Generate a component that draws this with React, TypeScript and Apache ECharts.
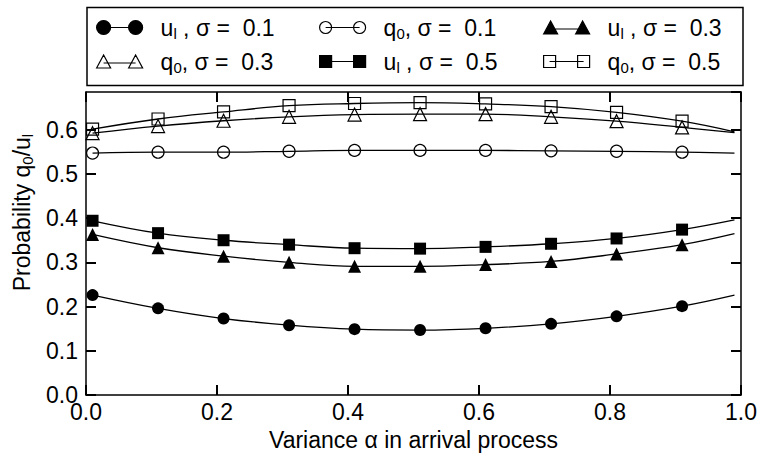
import React, { useEffect, useRef } from "react";
import * as echarts from "echarts";

// Variance alpha (last point is the curve end, drawn without marker)
const alpha = [0.01, 0.11, 0.21, 0.31, 0.41, 0.51, 0.61, 0.71, 0.81, 0.91, 0.99];

const ulSigma01 = [0.226, 0.196, 0.173, 0.158, 0.149, 0.147, 0.151, 0.161, 0.178, 0.201, 0.226];
const q0Sigma01 = [0.547, 0.549, 0.549, 0.551, 0.553, 0.553, 0.553, 0.552, 0.551, 0.549, 0.547];
const ulSigma03 = [0.363, 0.333, 0.314, 0.3, 0.291, 0.291, 0.295, 0.302, 0.319, 0.34, 0.365];
const q0Sigma03 = [0.592, 0.608, 0.62, 0.629, 0.634, 0.635, 0.635, 0.629, 0.619, 0.605, 0.593];
const ulSigma05 = [0.394, 0.366, 0.35, 0.34, 0.332, 0.331, 0.335, 0.342, 0.354, 0.374, 0.396];
const q0Sigma05 = [0.601, 0.624, 0.64, 0.654, 0.659, 0.661, 0.658, 0.652, 0.639, 0.619, 0.595];

const seriesNames = [
  "u_l, σ = 0.1",
  "q_0, σ = 0.1",
  "u_l, σ = 0.3",
  "q_0, σ = 0.3",
  "u_l, σ = 0.5",
  "q_0, σ = 0.5",
];
const legendLabels = [
  "u{s|l} , σ =  0.1",
  "q{s|0}, σ =  0.1",
  "u{s|l} , σ =  0.3",
  "q{s|0}, σ =  0.3",
  "u{s|l} , σ =  0.5",
  "q{s|0}, σ =  0.5",
];

const xTickFmt = (v: number) => v.toFixed(1);

const FONT = "Liberation Sans";
const FS = 23;

const ICONS = {
  circleFilled: { d: "M0,7A7,7,0,1,1,14,7A7,7,0,1,1,0,7Z M32,7A7,7,0,1,1,46,7A7,7,0,1,1,32,7Z M7,7L39,7", h: 14 },
  circleOpen: { d: "M0,6A6,6,0,1,1,12,6A6,6,0,1,1,0,6Z M34,6A6,6,0,1,1,46,6A6,6,0,1,1,34,6Z M6,6L40,6", h: 12 },
  triangle: { d: "M0,13L7,0L14,13Z M32,13L39,0L46,13Z M7,8L39,8", h: 13 },
  square: { d: "M0,0L12,0L12,12L0,12Z M34,0L46,0L46,12L34,12Z M6,6L40,6", h: 12 },
};

export default function App() {
  const ref = useRef<HTMLDivElement>(null);

  useEffect(() => {
    document.body.style.margin = "0";
    if (!ref.current) return;
    const chart = echarts.init(ref.current, undefined, { renderer: "svg" });

    const defs = [
      { values: ulSigma01, symbol: "circle", filled: true, size: 12, icon: ICONS.circleFilled },
      { values: q0Sigma01, symbol: "circle", filled: false, size: 12, icon: ICONS.circleOpen },
      { values: ulSigma03, symbol: "triangle", filled: true, size: 13, icon: ICONS.triangle },
      { values: q0Sigma03, symbol: "triangle", filled: false, size: 13, icon: ICONS.triangle },
      { values: ulSigma05, symbol: "rect", filled: true, size: 12, icon: ICONS.square },
      { values: q0Sigma05, symbol: "rect", filled: false, size: 12, icon: ICONS.square },
    ];

    const series = defs.map((d, idx) => ({
      name: seriesNames[idx],
      type: "line",
      smooth: 0.4,
      showSymbol: true,
      showAllSymbol: true,
      symbol: d.symbol,
      symbolSize: d.size,
      data: d.values.map((v, i) =>
        i === d.values.length - 1 ? { value: [alpha[i], v], symbol: "none" } : [alpha[i], v]
      ),
      lineStyle: { color: "#000", width: 1.3 },
      itemStyle: {
        color: d.filled ? "#000" : "rgba(0,0,0,0)",
        borderColor: "#000",
        borderWidth: d.filled ? 0 : 1.2,
      },
      emphasis: { disabled: true },
    }));

    const legendPos = [
      { left: 96, top: 14 },
      { left: 319, top: 14 },
      { left: 543, top: 14 },
      { left: 96, top: 48 },
      { left: 319, top: 48 },
      { left: 543, top: 48 },
    ];

    const legends = defs.map((d, idx) => ({
      data: [
        {
          name: seriesNames[idx],
          icon: "path://" + d.icon.d,
          itemStyle: {
            color: d.filled ? "#000" : "rgba(0,0,0,0)",
            borderColor: "#000",
            borderWidth: 1.2,
          },
        },
      ],
      left: legendPos[idx].left,
      top: legendPos[idx].top,
      padding: 0,
      itemWidth: 46,
      itemHeight: d.icon.h,
      selectedMode: false,
      formatter: () => legendLabels[idx],
      textStyle: {
        fontFamily: FONT,
        fontSize: FS,
        color: "#000",
        lineHeight: 27,
        padding: [0, 0, 0, 13],
        rich: {
          s: { fontFamily: FONT, fontSize: 15, lineHeight: 17, verticalAlign: "bottom", color: "#000" },
        },
      },
    }));

    const axisLine = { show: true, onZero: false, lineStyle: { color: "#000", width: 1.5 } };
    const axisTick = { show: true, inside: true, length: 10, lineStyle: { color: "#000", width: 2 } };

    chart.setOption({
      animation: false,
      backgroundColor: "#fff",
      textStyle: { fontFamily: FONT, color: "#000" },
      grid: { left: 86, right: 17, top: 92, bottom: 60, containLabel: false },
      legend: legends,
      graphic: [
        {
          type: "rect",
          shape: { x: 87, y: 7.5, width: 656, height: 78 },
          style: { fill: "none", stroke: "#000", lineWidth: 1.5 },
          silent: true,
        },
      ],
      xAxis: [
        {
          type: "value",
          position: "bottom",
          min: 0,
          max: 1,
          interval: 0.2,
          axisLine,
          axisTick,
          splitLine: { show: false },
          axisLabel: { fontSize: FS, color: "#000", margin: 5, formatter: xTickFmt, fontFamily: FONT },
          name: "Variance α in arrival process",
          nameLocation: "middle",
          nameGap: 30,
          nameTextStyle: { fontSize: FS, color: "#000", fontFamily: FONT },
        },
        {
          type: "value",
          position: "top",
          min: 0,
          max: 1,
          interval: 0.2,
          axisLine,
          axisTick,
          splitLine: { show: false },
          axisLabel: { show: false },
        },
      ],
      yAxis: [
        {
          type: "value",
          position: "left",
          min: 0,
          max: 0.685,
          interval: 0.1,
          axisLine,
          axisTick,
          splitLine: { show: false },
          axisLabel: {
            fontSize: FS,
            color: "#000",
            margin: 8,
            showMaxLabel: false,
            fontFamily: FONT,
            formatter: (v: number) => (Math.abs(v * 10 - Math.round(v * 10)) < 1e-6 ? v.toFixed(1) : ""),
          },
          name: "Probability q{s|0}/u{s|l}",
          nameLocation: "middle",
          nameGap: 48,
          nameTextStyle: {
            fontSize: FS,
            color: "#000",
            fontFamily: FONT,
            lineHeight: 27,
            padding: [0, 0, 0, 62],
            rich: {
              s: { fontFamily: FONT, fontSize: 15, lineHeight: 17, verticalAlign: "bottom", color: "#000" },
            },
          },
        },
        {
          type: "value",
          position: "right",
          min: 0,
          max: 0.685,
          interval: 0.1,
          axisLine,
          axisTick,
          splitLine: { show: false },
          axisLabel: { show: false },
        },
      ],
      series,
    });

    return () => chart.dispose();
  }, []);

  return <div ref={ref} style={{ width: 760, height: 456 }} />;
}
